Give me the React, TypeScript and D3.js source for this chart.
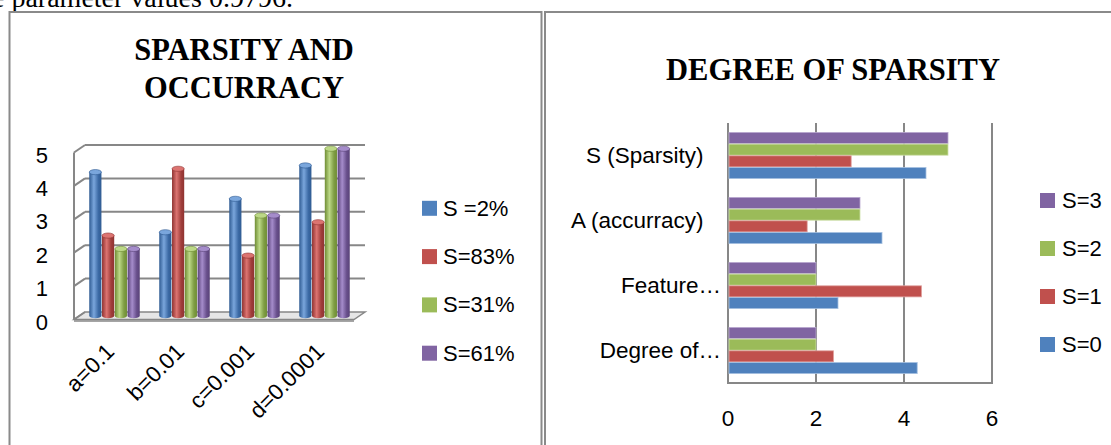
import React from "react";
import * as d3 from "d3";

// ---------- data ----------
const leftCategories = ["a=0.1", "b=0.01", "c=0.001", "d=0.0001"];
const leftSeriesNames = ["S =2%", "S=83%", "S=31%", "S=61%"];
const leftS2 = [4.3, 2.5, 3.5, 4.5];
const leftS83 = [2.4, 4.4, 1.8, 2.8];
const leftS31 = [2, 2, 3, 5];
const leftS61 = [2, 2, 3, 5];
const leftTicks = [0, 1, 2, 3, 4, 5];

const rightCategories = ["S (Sparsity)", "A (accurracy)", "Feature…", "Degree of…"]; // top to bottom
const rightSeriesNames = ["S=3", "S=2", "S=1", "S=0"]; // top to bottom within a group
const rightS0 = [4.5, 3.5, 2.5, 4.3];
const rightS1 = [2.8, 1.8, 4.4, 2.4];
const rightS2 = [5, 3, 2, 2];
const rightS3 = [5, 3, 2, 2];
const rightTicks = [0, 2, 4, 6];

const COLORS = {
  blue: "#4F81BD",
  red: "#C0504D",
  green: "#9BBB59",
  purple: "#8064A2",
};
const GRAD = {
  blue: ["#2f5b92", "#7aa6dc", "#3c6aa5"],
  red: ["#8f3331", "#dc7471", "#a03e3b"],
  green: ["#6f8d34", "#bcd886", "#7f9d44"],
  purple: ["#5a4379", "#a58ccb", "#684f8b"],
};

const GRID = "#878787";
const SANS = "'Liberation Sans', Arial, sans-serif";
const SERIF = "'Liberation Serif', 'Times New Roman', serif";

function LeftChart() {
  const series = [
    { name: leftSeriesNames[0], values: leftS2, key: "blue" },
    { name: leftSeriesNames[1], values: leftS83, key: "red" },
    { name: leftSeriesNames[2], values: leftS31, key: "green" },
    { name: leftSeriesNames[3], values: leftS61, key: "purple" },
  ];
  // back wall geometry
  const backX0 = 85, backX1 = 365;
  const depthDx = -11, depthDy = 7.5;
  const yBack = d3.scaleLinear().domain([0, 5]).range([312, 145]);
  const yMid = d3.scaleLinear().domain([0, 5]).range([312 + depthDy / 2, 145 + depthDy / 2]);
  const x0 = d3
    .scaleBand<string>()
    .domain(leftCategories)
    .range([backX0 + depthDx / 2, backX1 + depthDx / 2])
    .paddingInner(0.27)
    .paddingOuter(0.135);
  const x1 = d3
    .scaleBand<string>()
    .domain(series.map((s) => s.name))
    .range([0, x0.bandwidth()])
    .padding(0);
  const bw = x1.bandwidth();
  const ry = 2.6;

  return (
    <g>
      {/* title */}
      <text x={244} y={60} textAnchor="middle" fontFamily={SERIF} fontWeight="bold" fontSize={30.5}>
        SPARSITY AND
      </text>
      <text x={244} y={98} textAnchor="middle" fontFamily={SERIF} fontWeight="bold" fontSize={30.5}>
        OCCURRACY
      </text>

      {/* floor */}
      <path
        d={`M${backX0 + depthDx},${yBack(0) + depthDy} L${backX1 + depthDx},${yBack(0) + depthDy} L${backX1},${yBack(0)} L${backX0},${yBack(0)} Z`}
        fill="#e6e6e6"
        stroke={GRID}
        strokeWidth={1.5}
      />
      <line
        x1={backX0 + depthDx}
        x2={backX1 + depthDx}
        y1={yBack(0) + depthDy + 1.5}
        y2={yBack(0) + depthDy + 1.5}
        stroke={GRID}
        strokeWidth={1.5}
      />
      {/* gridlines on back wall and left wall */}
      {leftTicks.map((t) => (
        <g key={t}>
          {t > 0 && (
            <line x1={backX0} x2={backX1} y1={yBack(t)} y2={yBack(t)} stroke={GRID} strokeWidth={2} />
          )}
          <line
            x1={backX0 + depthDx}
            y1={yBack(t) + depthDy}
            x2={backX0}
            y2={yBack(t)}
            stroke={GRID}
            strokeWidth={2}
          />
          <text
            x={48}
            y={yBack(t) + depthDy + 2.5}
            textAnchor="end"
            dominantBaseline="central"
            fontFamily={SANS}
            fontSize={22}
          >
            {t}
          </text>
        </g>
      ))}
      <line
        x1={backX0 + depthDx}
        x2={backX0 + depthDx}
        y1={yBack(5) + depthDy}
        y2={yBack(0) + depthDy}
        stroke={GRID}
        strokeWidth={2}
      />

      {/* cylinders */}
      {leftCategories.map((c, ci) => (
        <g key={c}>
          {series.map((s) => {
            const x = (x0(c) as number) + (x1(s.name) as number) + 0.3;
            const w = bw - 0.6;
            const yTop = yMid(s.values[ci]);
            const yBot = yMid(0);
            const cx = x + w / 2;
            return (
              <g key={s.name}>
                <path
                  d={`M${x},${yTop} L${x},${yBot} A${w / 2},${ry} 0 0 0 ${x + w},${yBot} L${x + w},${yTop} Z`}
                  fill={`url(#cyl-${s.key})`}
                />
                <ellipse cx={cx} cy={yTop} rx={w / 2} ry={ry} fill={GRAD[s.key as keyof typeof GRAD][1]} stroke={GRAD[s.key as keyof typeof GRAD][0]} strokeWidth={0.6} />
              </g>
            );
          })}
        </g>
      ))}

      {/* x labels */}
      {leftCategories.map((c) => {
        const px = (x0(c) as number) + x0.bandwidth() / 2 + 1;
        const py = 353;
        return (
          <text
            key={c}
            transform={`translate(${px},${py}) rotate(-45)`}
            textAnchor="end"
            fontFamily={SANS}
            fontSize={22.5}
          >
            {c}
          </text>
        );
      })}

      {/* legend */}
      {series.map((s, i) => {
        const cy = 208.3 + i * 48.3;
        return (
          <g key={s.name}>
            <rect x={422} y={cy - 7.5} width={15} height={15} fill={COLORS[s.key as keyof typeof COLORS]} />
            <text x={443} y={cy} dominantBaseline="central" fontFamily={SANS} fontSize={22}>
              {s.name}
            </text>
          </g>
        );
      })}
    </g>
  );
}

function RightChart() {
  const series = [
    { name: rightSeriesNames[0], values: rightS3, color: COLORS.purple, light: "#b9a9d0" },
    { name: rightSeriesNames[1], values: rightS2, color: COLORS.green, light: "#cde0a9" },
    { name: rightSeriesNames[2], values: rightS1, color: COLORS.red, light: "#e2a4a2" },
    { name: rightSeriesNames[3], values: rightS0, color: COLORS.blue, light: "#a5c0e0" },
  ];
  const x = d3.scaleLinear().domain([0, 6]).range([728, 992]);
  const y0 = d3
    .scaleBand<string>()
    .domain(rightCategories)
    .range([123, 383])
    .paddingInner(0.28)
    .paddingOuter(0.14);
  const y1 = d3
    .scaleBand<string>()
    .domain(series.map((s) => s.name))
    .range([0, y0.bandwidth()])
    .padding(0);

  return (
    <g>
      <text x={833} y={80} textAnchor="middle" fontFamily={SERIF} fontWeight="bold" fontSize={30.5}>
        DEGREE OF SPARSITY
      </text>

      {/* gridlines */}
      {rightTicks.map((t) => (
        <g key={t}>
          <line x1={x(t)} x2={x(t)} y1={123} y2={384} stroke={GRID} strokeWidth={2} />
          <text
            x={x(t)}
            y={418}
            textAnchor="middle"
            dominantBaseline="central"
            fontFamily={SANS}
            fontSize={22.5}
          >
            {t}
          </text>
        </g>
      ))}
      <line x1={x(0) - 1} x2={x(6) + 1} y1={383} y2={383} stroke={GRID} strokeWidth={2} />

      {/* bars */}
      {rightCategories.map((c, ci) => (
        <g key={c}>
          {series.map((s) => {
            const yy = (y0(c) as number) + (y1(s.name) as number);
            return (
              <rect
                key={s.name}
                x={x(0) + 1}
                y={yy + 0.3}
                width={x(s.values[ci]) - x(0) - 1}
                height={y1.bandwidth() - 0.6}
                fill={s.color}
                stroke={s.light}
                strokeWidth={0.8}
              />
            );
          })}
          <text
            x={c.endsWith("…") ? 721 : 703.5}
            y={(y0(c) as number) + y0.bandwidth() / 2}
            textAnchor="end"
            dominantBaseline="central"
            fontFamily={SANS}
            fontSize={22.5}
          >
            {c}
          </text>
        </g>
      ))}

      {/* legend */}
      {series.map((s, i) => {
        const cy = 200.5 + i * 48;
        return (
          <g key={s.name}>
            <rect x={1040} y={cy - 7.5} width={15} height={15} fill={s.color} />
            <text x={1062} y={cy} dominantBaseline="central" fontFamily={SANS} fontSize={22}>
              {s.name}
            </text>
          </g>
        );
      })}
    </g>
  );
}

export default function App() {
  return (
    <svg
      width={1111}
      height={445}
      viewBox="0 0 1111 445"
      style={{ position: "absolute", left: 0, top: 0, background: "#fff" }}
    >
      <defs>
        {Object.entries(GRAD).map(([k, [dark, light, mid]]) => (
          <linearGradient key={k} id={`cyl-${k}`} x1="0" x2="1" y1="0" y2="0">
            <stop offset="0%" stopColor={dark} />
            <stop offset="38%" stopColor={light} />
            <stop offset="75%" stopColor={mid} />
            <stop offset="100%" stopColor={dark} />
          </linearGradient>
        ))}
      </defs>
      <rect x={0} y={0} width={1111} height={445} fill="#fff" />
      {/* cut-off line of document text above */}
      <text x={-8} y={7} fontFamily={SERIF} fontSize={28}>
        e parameter values 0.9796.
      </text>
      {/* panel borders */}
      <path d="M9.5,460 L9.5,12 L541.5,12 L541.5,460" fill="none" stroke="#8a8a8a" strokeWidth={2} />
      <path d="M545,460 L545,12 L1120,12" fill="none" stroke="#8a8a8a" strokeWidth={2} />
      <LeftChart />
      <RightChart />
    </svg>
  );
}
